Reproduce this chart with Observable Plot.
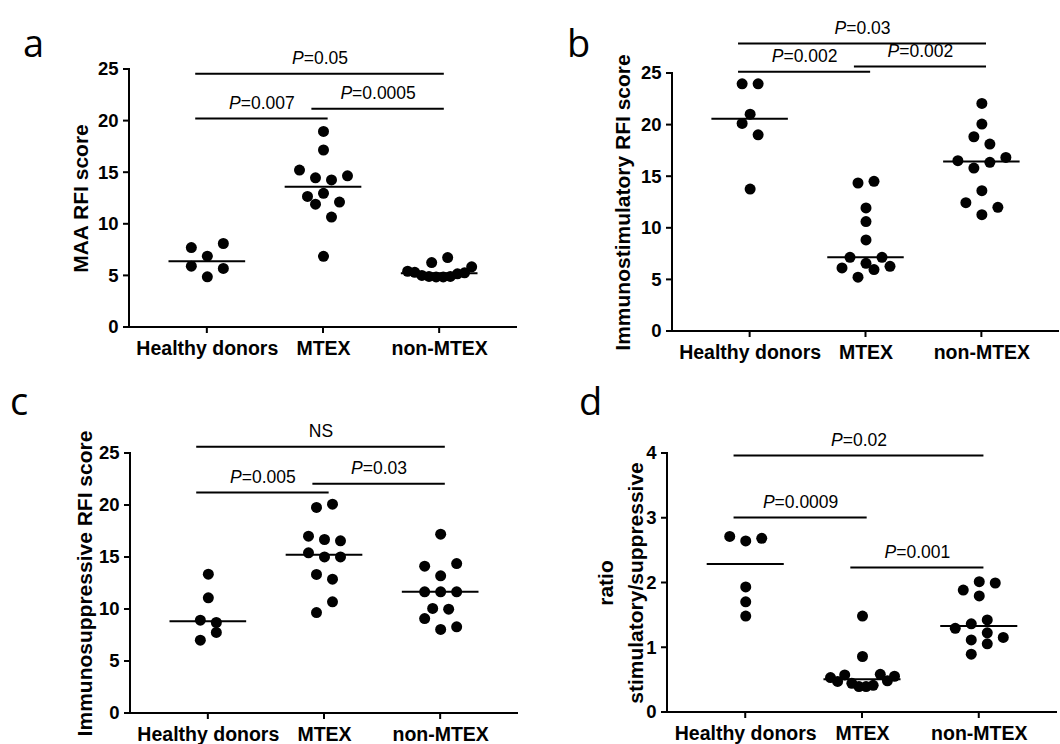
<!DOCTYPE html>
<html><head><meta charset="utf-8">
<script src="https://cdn.jsdelivr.net/npm/d3@7"></script>
<script src="https://cdn.jsdelivr.net/npm/@observablehq/plot@0.6"></script>
<style>
body{margin:0;background:#fff;}
#wrap{position:relative;width:1060px;height:744px;overflow:hidden;background:#fff;}
#wrap > svg{position:absolute;}
.letter{position:absolute;font-family:"Open Sans","Noto Sans",sans-serif;font-size:38px;line-height:38px;color:#000;}
#veil{position:absolute;left:0;top:0;width:1060px;height:744px;z-index:10;background:rgba(255,255,255,0.004);pointer-events:none;}
</style></head><body><div id="wrap"></div><div id="veil"></div>
<script>
const groups = ["Healthy donors", "MTEX", "non-MTEX"];

// a: MAA RFI score
const maaHealthy = [7.75, 6.91, 8.14, 5.94, 4.91, 5.72];
const maaMTEX = [19.0, 17.2, 15.25, 14.5, 14.3, 14.7, 11.95, 12.7, 13.0, 12.15, 10.7, 6.9];
const maaNonMTEX = [6.29, 6.78, 5.45, 5.35, 5.05, 4.95, 4.9, 4.9, 4.95, 5.2, 5.3, 5.88];
const maaBars = [
  {from: "Healthy donors", to: "non-MTEX", y: 24.6, label: "P=0.05"},
  {from: "Healthy donors", to: "MTEX", y: 20.25, label: "P=0.007"},
  {from: "MTEX", to: "non-MTEX", y: 21.2, label: "P=0.0005"}
];

// b: Immunostimulatory RFI score
const stimHealthy = [24.0, 24.0, 21.06, 20.16, 19.06, 13.8];
const stimMTEX = [14.39, 14.55, 11.97, 10.65, 8.87, 7.19, 6.61, 7.19, 6.16, 5.26, 6.0, 6.32];
const stimNonMTEX = [22.1, 20.1, 18.87, 18.16, 16.55, 15.84, 16.39, 16.87, 13.65, 12.48, 11.32, 12.03];
const stimBars = [
  {from: "Healthy donors", to: "non-MTEX", y: 27.9, label: "P=0.03"},
  {from: "Healthy donors", to: "MTEX", y: 25.16, label: "P=0.002"},
  {from: "MTEX", to: "non-MTEX", y: 25.68, label: "P=0.002"}
];

// c: Immunosuppressive RFI score
const supHealthy = [13.4, 11.12, 8.97, 8.75, 7.05, 7.79];
const supMTEX = [19.81, 20.13, 17.05, 16.73, 16.6, 15.45, 15.06, 15.06, 13.37, 12.92, 9.71, 10.74];
const supNonMTEX = [17.24, 14.17, 13.24, 14.42, 11.7, 11.7, 11.7, 10.1, 10.03, 9.13, 8.08, 8.33];
const supBars = [
  {from: "Healthy donors", to: "non-MTEX", y: 25.64, label: "NS"},
  {from: "Healthy donors", to: "MTEX", y: 21.25, label: "P=0.005"},
  {from: "MTEX", to: "non-MTEX", y: 22.1, label: "P=0.03"}
];

// d: ratio stimulatory/suppressive
const ratioHealthy = [2.72, 2.65, 2.69, 1.94, 1.71, 1.49];
const ratioMTEX = [1.49, 0.865, 0.54, 0.48, 0.58, 0.45, 0.40, 0.40, 0.42, 0.59, 0.49, 0.56];
const ratioNonMTEX = [2.02, 1.89, 1.80, 2.0, 1.37, 1.43, 1.30, 1.12, 1.23, 1.16, 0.90, 1.06];
const ratioBars = [
  {from: "Healthy donors", to: "non-MTEX", y: 3.97, label: "P=0.02"},
  {from: "Healthy donors", to: "MTEX", y: 3.01, label: "P=0.0009"},
  {from: "MTEX", to: "non-MTEX", y: 2.24, label: "P=0.001"}
];

const yTicksRFI = [0, 5, 10, 15, 20, 25];
const yTicksRatio = [0, 1, 2, 3, 4];

const FONT_NAME = "Liberation Sans";
const FONT = '"Liberation Sans", Arial, Helvetica, sans-serif';
const PFONT = 17.5;      // size of the P-value labels
const PAD = 0.67;        // outer padding of the category axis (in category steps)
const ROW = 13;          // px: points closer than this share a row
const SPACING = 16;      // px between neighbours in a row
const MAXSPAN = 64;      // px: widest a row may get
const TICK = 6;          // px tick length
const LW = 2;            // px axis line width

const ctx = document.createElement("canvas").getContext("2d");
function textWidth(s, style) {
  ctx.font = `${style} ${PFONT}px "${FONT_NAME}", Arial, sans-serif`;
  return ctx.measureText(s).width;
}

function swarm(vals, pxPerUnit) {
  const idx = vals.map((v, i) => i).sort((a, b) => vals[a] - vals[b]);
  const rows = [];
  let cur = null;
  for (const i of idx) {
    if (cur && (vals[i] - vals[cur[0]]) * pxPerUnit < ROW) cur.push(i);
    else { cur = [i]; rows.push(cur); }
  }
  const off = vals.map(() => 0);
  for (const row of rows) {
    row.sort((a, b) => a - b);
    const n = row.length;
    const sp = n > 1 ? Math.min(SPACING, MAXSPAN / (n - 1)) : 0;
    row.forEach((i, k) => { off[i] = (k - (n - 1) / 2) * sp; });
  }
  return off;
}

function panel(cfg) {
  const W = cfg.width, H = cfg.height;
  const fw = W - cfg.ml - cfg.mr, fh = H - cfg.mt - cfg.mb;
  const xDom = [-PAD, groups.length - 1 + PAD];
  const step = fw / (xDom[1] - xDom[0]);
  const pxPerUnit = fh / cfg.yMax;
  const hx = LW / 2 / step, hy = LW / 2 / pxPerUnit;   // half line width in data units
  const points = [];
  cfg.series.forEach((vals, gi) => {
    const offs = swarm(vals, pxPerUnit);
    vals.forEach((v, i) => points.push({gi, v, x: gi + offs[i] / step}));
  });
  const medians = cfg.series.map((vals, gi) => ({gi, m: d3.median(vals)}));
  const bars = cfg.bars.map(b => ({...b, i0: groups.indexOf(b.from), i1: groups.indexOf(b.to)}));
  const italicParts = [], plainParts = [];
  for (const b of bars) {
    const mid = (b.i0 + b.i1) / 2 - 0.03;
    if (b.label.startsWith("P")) {
      const p = "P", rest = b.label.slice(1);
      const wP = textWidth(p, "italic"), wR = textWidth(rest, "normal");
      const left = mid - (wP + wR) / 2 / step;
      italicParts.push({x: left, y: b.y, text: p});
      plainParts.push({x: left + wP / step, y: b.y, text: rest, anchor: "start"});
    } else {
      plainParts.push({x: mid, y: b.y, text: b.label, anchor: "middle"});
    }
  }
  // axis lines and ticks as thin filled rectangles (data units derived from pixel sizes)
  const axisRects = [
    {x1: xDom[0] - hx, x2: xDom[1], y1: -hy, y2: hy},                 // x axis line
    {x1: xDom[0] - hx, x2: xDom[0] + hx, y1: -hy, y2: cfg.yMax + hy}  // y axis line
  ];
  cfg.yTicks.forEach(t => axisRects.push({x1: xDom[0] - TICK / step, x2: xDom[0], y1: t - hy, y2: t + hy}));
  groups.forEach((g, i) => axisRects.push({x1: i - hx, x2: i + hx, y1: -TICK / pxPerUnit, y2: 0}));
  const svg = Plot.plot({
    width: W, height: H,
    marginLeft: cfg.ml, marginRight: cfg.mr, marginTop: cfg.mt, marginBottom: cfg.mb,
    style: {fontFamily: FONT, fontSize: "18px", fontWeight: "bold", color: "#000", background: "transparent"},
    x: {domain: xDom, axis: null},
    y: {domain: [0, cfg.yMax], axis: null},
    marks: [
      Plot.axisY({ticks: cfg.yTicks, tickFormat: d => String(d), tickSize: 0, tickPadding: TICK + 5, label: null, fontSize: 18.5, fontWeight: "bold"}),
      Plot.axisX({ticks: [0, 1, 2], tickFormat: i => groups[i], tickSize: 0, tickPadding: TICK + 8, label: null, fontSize: 19.5, fontWeight: "bold"}),
      Plot.rect(axisRects, {x1: "x1", x2: "x2", y1: "y1", y2: "y2", fill: "black", inset: 0}),
      // medians and points
      Plot.ruleY(medians, {x1: d => d.gi - 0.33, x2: d => d.gi + 0.33, y: "m", stroke: "black", strokeWidth: 2}),
      Plot.dot(points, {x: "x", y: "v", r: 5.5, fill: "black"}),
      // significance bars and their labels
      Plot.ruleY(bars, {x1: d => d.i0 - 0.1, x2: d => d.i1 + 0.04, y: "y", stroke: "black", strokeWidth: 2}),
      Plot.text(italicParts, {x: "x", y: "y", text: "text", dy: -15, textAnchor: "start", fontStyle: "italic", fontWeight: "normal", fontSize: PFONT}),
      Plot.text(plainParts.filter(d => d.anchor === "start"), {x: "x", y: "y", text: "text", dy: -15, textAnchor: "start", fontWeight: "normal", fontSize: PFONT}),
      Plot.text(plainParts.filter(d => d.anchor === "middle"), {x: "x", y: "y", text: "text", dy: -15, textAnchor: "middle", fontWeight: "normal", fontSize: PFONT}),
      // y label
      Plot.text([cfg.yLabel], {frameAnchor: "left", textAnchor: "middle", dx: cfg.labelDx, rotate: -90, text: d => d, fontSize: 21, fontWeight: "bold", lineHeight: 1.45})
    ]
  });
  svg.style.left = cfg.left + "px";
  svg.style.top = cfg.top + "px";
  return svg;
}

const wrap = document.getElementById("wrap");
wrap.appendChild(panel({left: 0, top: 0, width: 530, height: 372, ml: 129, mr: 13, mt: 69, mb: 45,
  yMax: 25, yTicks: yTicksRFI, series: [maaHealthy, maaMTEX, maaNonMTEX], bars: maaBars,
  yLabel: "MAA RFI score", labelDx: -51}));
wrap.appendChild(panel({left: 530, top: 0, width: 530, height: 372, ml: 142, mr: 1, mt: 73, mb: 41,
  yMax: 25, yTicks: yTicksRFI, series: [stimHealthy, stimMTEX, stimNonMTEX], bars: stimBars,
  yLabel: "Immunostimulatory RFI score", labelDx: -52}));
wrap.appendChild(panel({left: 0, top: 372, width: 530, height: 372, ml: 130, mr: 12, mt: 81, mb: 31,
  yMax: 25, yTicks: yTicksRFI, series: [supHealthy, supMTEX, supNonMTEX], bars: supBars,
  yLabel: "Immunosuppressive RFI score", labelDx: -48}));
wrap.appendChild(panel({left: 530, top: 372, width: 530, height: 372, ml: 137, mr: 3, mt: 81, mb: 32,
  yMax: 4, yTicks: yTicksRatio, series: [ratioHealthy, ratioMTEX, ratioNonMTEX], bars: ratioBars,
  yLabel: "ratio\nstimulatory/suppressive", labelDx: -49}));

// panel letters
const letters = [["a", 23, 23], ["b", 567, 23], ["c", 10, 381], ["d", 579, 381]];
for (const [ch, x, y] of letters) {
  const div = document.createElement("div");
  div.className = "letter";
  div.style.left = x + "px";
  div.style.top = y + "px";
  div.textContent = ch;
  wrap.appendChild(div);
}
void document.body.offsetHeight;
</script>
</body></html>
